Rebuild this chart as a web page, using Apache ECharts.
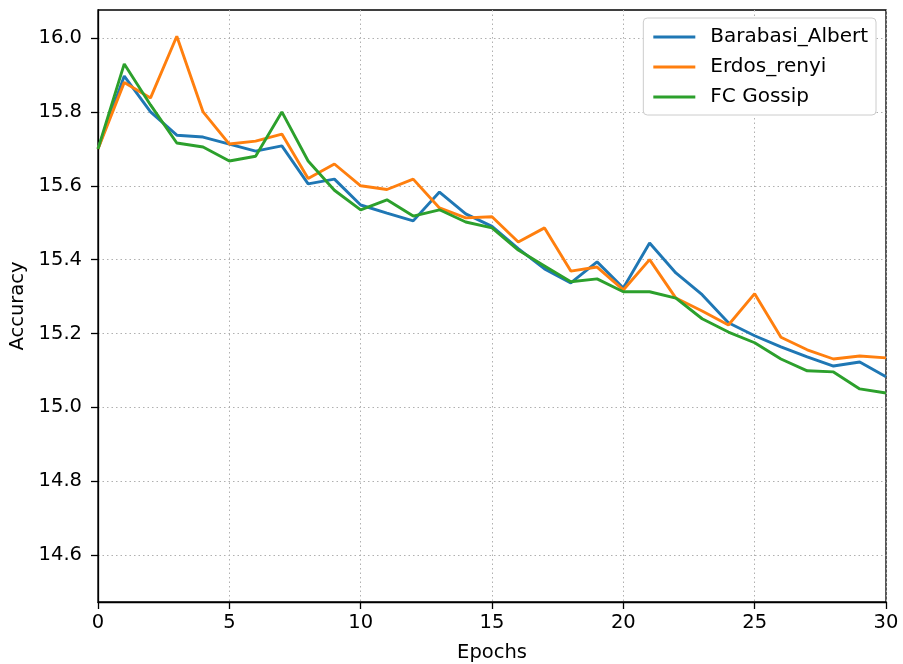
<!DOCTYPE html>
<html>
<head>
<meta charset="utf-8">
<script src="https://cdn.jsdelivr.net/npm/echarts@6/dist/echarts.min.js"></script>
<style>html,body{margin:0;padding:0;background:#fff}#c{width:903px;height:664px}</style>
</head>
<body>
<div id="c"></div>
<script>
const epochs = Array.from({length: 31}, (_, i) => i);
const barabasiAlbert = [15.700, 15.897, 15.800, 15.737, 15.732, 15.713, 15.694, 15.708, 15.605, 15.618,
  15.548, 15.526, 15.505, 15.583, 15.524, 15.490, 15.430, 15.375, 15.337, 15.394,
  15.323, 15.445, 15.364, 15.305, 15.229, 15.194, 15.164, 15.137, 15.112, 15.123, 15.083];
const erdosRenyi = [15.700, 15.880, 15.838, 16.005, 15.800, 15.713, 15.721, 15.740, 15.620, 15.659,
  15.600, 15.590, 15.618, 15.540, 15.513, 15.516, 15.448, 15.486, 15.369, 15.380,
  15.318, 15.400, 15.296, 15.261, 15.223, 15.308, 15.190, 15.156, 15.131, 15.139, 15.134];
const fcGossip = [15.700, 15.930, 15.819, 15.716, 15.705, 15.667, 15.680, 15.800, 15.667, 15.588,
  15.535, 15.562, 15.518, 15.535, 15.502, 15.486, 15.426, 15.383, 15.340, 15.348,
  15.313, 15.313, 15.296, 15.240, 15.204, 15.175, 15.131, 15.099, 15.096, 15.050, 15.039];
const yTicks = [14.6, 14.8, 15.0, 15.2, 15.4, 15.6, 15.8, 16.0];
const xTicks = [0, 5, 10, 15, 20, 25, 30];
const seriesNames = ['Barabasi_Albert', 'Erdos_renyi', 'FC Gossip'];
const colors = ['#1f77b4', '#ff7f0e', '#2ca02c'];

const font = 'DejaVu Sans';
const fs = 19.5;
const chart = echarts.init(document.getElementById('c'), null, {renderer: 'canvas'});
const mk = (name, vals, color) => ({
  name, type: 'line', data: epochs.map((e, i) => [e, vals[i]]),
  symbol: 'none', showSymbol: false, color,
  lineStyle: {width: 2.9, color}, animation: false
});
chart.setOption({
  animation: false,
  grid: {left: 98, right: 17, top: 10, bottom: 62, containLabel: false, outerBoundsMode: 'none',
    show: true, borderColor: '#000', borderWidth: 1.3, backgroundColor: 'transparent'},
  legend: {
    orient: 'vertical', right: 27, top: 18,
    data: seriesNames, icon: 'rect', itemWidth: 42, itemHeight: 3, itemGap: 10,
    backgroundColor: '#fff', borderColor: '#cccccc', borderWidth: 1, borderRadius: 4,
    padding: [9, 8, 8, 10],
    textStyle: {fontFamily: font, fontSize: 20, color: '#000', lineHeight: 20, padding: [0, 0, 0, 10]}
  },
  xAxis: {
    type: 'value', min: 0, max: 30, interval: 5,
    name: 'Epochs', nameLocation: 'middle', nameGap: 41,
    nameTextStyle: {fontFamily: font, fontSize: fs, color: '#000'},
    axisLine: {show: true, lineStyle: {color: '#000', width: 1.3}},
    axisTick: {show: true, length: 7, customValues: xTicks, lineStyle: {color: '#000', width: 1.3}},
    axisLabel: {fontFamily: font, fontSize: fs, color: '#000', margin: 11, customValues: xTicks},
    splitLine: {show: true, lineStyle: {color: '#b0b0b0', type: [1.5, 3], width: 1}}
  },
  yAxis: {
    type: 'value', min: 14.473, max: 16.076,
    name: 'Accuracy', nameLocation: 'middle', nameGap: 65,
    nameTextStyle: {fontFamily: font, fontSize: fs, color: '#000'},
    axisLine: {show: true, lineStyle: {color: '#000', width: 1.3}},
    axisTick: {show: true, length: 7, customValues: yTicks, lineStyle: {color: '#000', width: 1.3}},
    axisLabel: {fontFamily: font, fontSize: fs, color: '#000', margin: 16, customValues: yTicks,
      formatter: v => v.toFixed(1)},
    splitLine: {show: true, customValues: yTicks, lineStyle: {color: '#b0b0b0', type: [1.5, 3], width: 1}}
  },
  series: [
    mk(seriesNames[0], barabasiAlbert, colors[0]),
    mk(seriesNames[1], erdosRenyi, colors[1]),
    mk(seriesNames[2], fcGossip, colors[2])
  ]
});
</script>
</body>
</html>
